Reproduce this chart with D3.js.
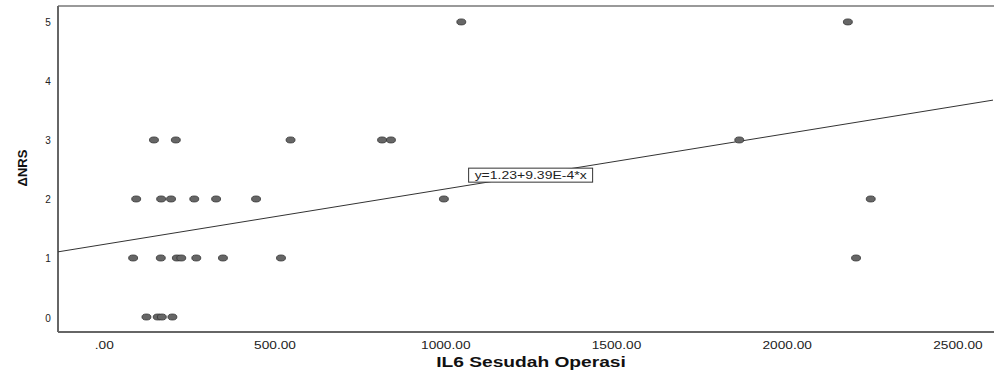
<!DOCTYPE html>
<html>
<head>
<meta charset="utf-8">
<script src="https://cdn.jsdelivr.net/npm/d3@7"></script>
<style>
  body { margin: 0; background: #fff; }
  svg { display: block; font-family: "Liberation Sans", Arial, sans-serif; }
</style>
</head>
<body>
<div id="chart"></div>
<script>
// --- data ---
const il6 = [125, 158, 170, 201,
             86, 167, 214, 227, 271, 349, 519, 2203,
             95, 168, 197, 265, 329, 446, 996, 2246,
             147, 211, 547, 815, 841, 1861,
             1047, 2179];
const dNRS = [0, 0, 0, 0,
              1, 1, 1, 1, 1, 1, 1, 1,
              2, 2, 2, 2, 2, 2, 2, 2,
              3, 3, 3, 3, 3, 3,
              5, 5];
const xTicks = [0, 500, 1000, 1500, 2000, 2500];
const yTicks = [0, 1, 2, 3, 4, 5];
const fitIntercept = 1.23;
const fitSlope = 9.39e-4;
const fitLabel = "y=1.23+9.39E-4*x";
const fitLabelAt = 1250;

const width = 994, height = 374;
const plotLeft = 58, plotRight = 993, plotTop = 6, plotBottom = 332;
const stretch = 1.37; // text in the reference is drawn wide

const svg = d3.select("#chart").append("svg")
    .attr("width", width).attr("height", height);

const x = d3.scaleLinear().domain([-134, 2604]).range([plotLeft, plotRight]);
const y = d3.scaleLinear().domain([-0.254, 5.27]).range([plotBottom, plotTop]);

// --- frame ---
svg.append("line")
    .attr("x1", plotLeft).attr("x2", width).attr("y1", plotTop).attr("y2", plotTop)
    .attr("stroke", "#777").attr("stroke-width", 1.5);

// --- axes ---
const fmtX = d => d3.format(".2f")(d).replace(/^0\./, ".");
const xAxisG = svg.append("g")
    .attr("transform", `translate(0,${plotBottom})`)
    .call(d3.axisBottom(x).tickValues(xTicks).tickFormat(fmtX).tickSize(0).tickPadding(10));
xAxisG.select(".domain").attr("d", `M${plotLeft},0H${width}`).attr("stroke", "#666").attr("stroke-width", 2);
xAxisG.selectAll("text")
    .attr("font-size", 10).attr("fill", "#222")
    .attr("transform", `scale(${stretch},1)`);

const yAxisG = svg.append("g")
    .attr("transform", `translate(${plotLeft},0)`)
    .call(d3.axisLeft(y).tickValues(yTicks).tickFormat(d3.format("d")).tickSize(0).tickPadding(0));
yAxisG.select(".domain").attr("d", `M0,${plotTop}V${plotBottom}`).attr("stroke", "#666").attr("stroke-width", 2);
yAxisG.selectAll("text")
    .attr("font-size", 10).attr("fill", "#222")
    .attr("text-anchor", "middle").attr("x", -10).attr("dy", "0.4em");

// --- axis titles ---
svg.append("text")
    .attr("transform", `translate(531,367) scale(${stretch},1)`)
    .attr("text-anchor", "middle")
    .attr("font-size", 14).attr("font-weight", "bold").attr("fill", "#111")
    .text("IL6 Sesudah Operasi");

svg.append("text")
    .attr("transform", "translate(27,168) rotate(-90)")
    .attr("text-anchor", "middle")
    .attr("font-size", 13).attr("font-weight", "bold").attr("fill", "#111")
    .text("ΔNRS");

// --- fit line ---
const plotG = svg.append("g");
plotG.append("clipPath").attr("id", "plot-clip").append("rect")
    .attr("x", plotLeft).attr("y", plotTop).attr("width", width - plotLeft).attr("height", plotBottom - plotTop);

const fit = v => fitIntercept + fitSlope * v;
const xd = x.domain();
plotG.append("line")
    .attr("clip-path", "url(#plot-clip)")
    .attr("x1", x(xd[0])).attr("y1", y(fit(xd[0])))
    .attr("x2", x(xd[1])).attr("y2", y(fit(xd[1])))
    .attr("stroke", "#333").attr("stroke-width", 1);

// --- points ---
plotG.selectAll("ellipse")
    .data(il6.map((v, i) => [v, dNRS[i]]))
    .enter().append("ellipse")
    .attr("cx", d => x(d[0]))
    .attr("cy", d => y(d[1]))
    .attr("rx", 4.5).attr("ry", 3)
    .attr("fill", "#666").attr("stroke", "#333").attr("stroke-width", 0.8);

// --- fit label ---
const lx = x(fitLabelAt), ly = y(fit(fitLabelAt));
const labelG = svg.append("g").attr("transform", `translate(${lx},${ly})`);
labelG.append("rect")
    .attr("x", -62).attr("y", -7).attr("width", 124).attr("height", 14)
    .attr("fill", "#fff").attr("stroke", "#333").attr("stroke-width", 1);
labelG.append("text")
    .attr("transform", `scale(1.4,1)`)
    .attr("text-anchor", "middle").attr("dy", "0.36em")
    .attr("font-size", 10).attr("fill", "#222")
    .text(fitLabel);
</script>
</body>
</html>
